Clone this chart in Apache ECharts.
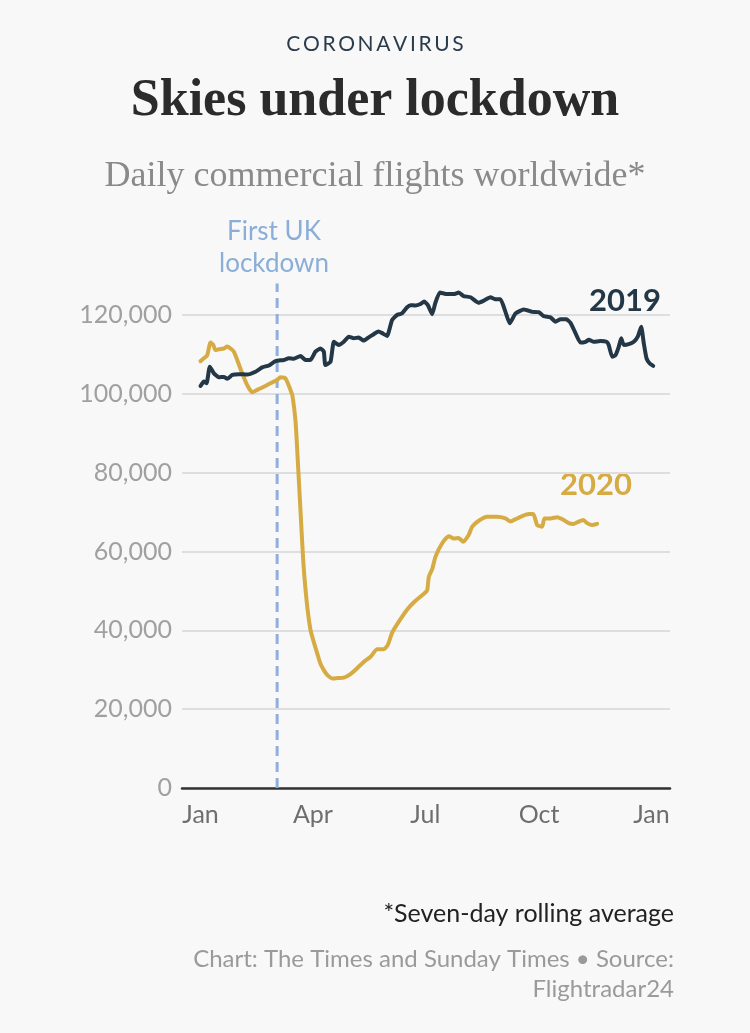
<!DOCTYPE html>
<html>
<head>
<meta charset="utf-8">
<script src="https://cdn.jsdelivr.net/npm/echarts@6/dist/echarts.min.js"></script>
<style>
html,body{margin:0;padding:0;background:#f8f8f8;}
#chart{width:750px;height:1033px;}
</style>
</head>
<body>
<div id="chart"></div>
<script>
// Day of year (0 = 1 Jan), daily flights (thousands)
const days2019 = [0,2.7,4.9,7.5,10.8,14.8,18.9,21.6,25.7,31,37.8,44.5,49.9,55.3,60.7,67.4,71.5,75.5,80.9,85,89,93,97,99.8,101,105.2,107.9,111.9,116,120,124,128,132,135,139,144,147,151,155,159,163,167,170,174,178,181,184,187.5,190,193.7,199.7,205,209,213,218.5,225,229,234.7,238.7,242.8,246.8,250.3,255,261.7,268.5,273.8,277.8,283.3,287.3,291.4,296.2,299.5,303.5,307.5,311.6,314.3,318.3,323.7,328.6,330.4,333.2,335.9,338.5,340.5,342.6,346.6,350.7,353.9,356.7,358.8,361,363.6,366.4];
const flights2019 = [102.0,103.1,102.7,106.9,105.2,104.2,104.3,103.8,104.8,105.0,104.9,105.6,106.7,107.2,108.3,108.6,109.0,108.9,109.6,108.6,108.6,110.7,111.5,110.7,107.3,108.1,113.2,112.4,113.2,114.5,114.1,114.3,113.5,114.1,114.9,115.8,115.4,114.7,118.7,120.0,120.4,121.9,122.5,122.4,122.8,123.4,122.5,120.2,123.0,125.7,125.3,125.3,125.7,124.8,124.5,123.1,123.6,124.5,124.0,124.0,120.8,117.9,120.4,121.4,120.8,120.7,119.7,119.4,118.3,118.9,118.9,118.0,115.4,113.0,113.2,113.7,113.2,113.4,113.2,112.4,109.4,109.8,111.9,114.1,112.4,112.6,113.2,114.5,117.0,112.8,109.0,107.7,107.1];

const days2020 = [0,2.7,5.4,8.1,10.3,12.1,14.8,18.9,21.6,24.3,27,29.7,33.7,37.8,41.8,45.9,51.2,56.7,62,64.7,68.8,72.8,74.4,76.9,78.7,80.9,83.1,85.8,89,91.7,94.4,97,99.8,102.5,106.6,111,116,121.4,126.8,132.2,137.6,143,148.3,151.6,155.1,160.5,167.3,174,181.3,183.5,184.8,187.5,190.2,195.6,201,205,209,212.6,217,219.9,225.2,232,240,246.8,251,255,260.4,265.7,269.3,272.5,276.5,278.4,283.3,288.7,294,298,302.1,306.2,309.7,312.9,317,321];
const flights2020 = [108.3,109.0,109.8,113.0,112.4,111.1,111.3,111.5,112.0,111.5,110.7,108.6,105.2,102.2,100.4,101.0,101.8,102.7,103.5,104.2,103.9,101.0,99.5,93.0,83.2,70.5,57.8,47.7,40.1,37.0,34.2,31.6,29.9,28.7,27.8,27.9,28.0,28.9,30.4,32.0,33.3,35.2,35.2,36.3,39.4,42.2,45.3,47.5,49.4,50.2,53.6,55.5,58.7,62.1,63.9,63.3,63.4,62.5,64.2,66.3,67.8,68.8,68.8,68.4,67.6,68.2,69.0,69.5,69.5,66.7,66.3,68.4,68.4,68.7,68.0,67.2,67.0,67.6,68.0,67.2,66.7,67.0];

const lockdownDay = 62;
const lockdownTop = 128;
const monthTicks = [0, 91, 182, 274, 365];
const monthLabels = ['Jan', 'Apr', 'Jul', 'Oct', 'Jan'];

const pair = (d, v) => d.map((x, i) => [x, v[i] * 1000]);

const sans = 'Lato, "Open Sans", sans-serif';
const serif = '"Liberation Serif", "DejaVu Serif", serif';
const spaced = s => s.split('').join('\u2009');

const chart = echarts.init(document.getElementById('chart'), null, {renderer: 'canvas'});
chart.setOption({
  backgroundColor: '#f8f8f8',
  animation: false,
  grid: {left: 182, right: 80, top: 315, bottom: 245},
  xAxis: {
    type: 'value', min: -15, max: 380,
    axisLine: {show: true, lineStyle: {color: '#333', width: 2.5}},
    axisTick: {show: false},
    splitLine: {show: false},
    axisLabel: {
      customValues: monthTicks,
      formatter: v => monthLabels[monthTicks.indexOf(v)],
      color: '#6e6e6e', fontFamily: sans, fontSize: 25, margin: 14
    }
  },
  yAxis: {
    type: 'value', min: 0, max: 120000, interval: 20000,
    axisLine: {show: false}, axisTick: {show: false},
    splitLine: {lineStyle: {color: '#dedede', width: 2}},
    axisLabel: {
      formatter: v => v.toLocaleString('en-US'),
      color: '#a0a0a0', fontFamily: sans, fontSize: 25, margin: 10
    }
  },
  series: [
    {
      type: 'line', data: [[lockdownDay, 0], [lockdownDay, lockdownTop * 1000]],
      symbol: 'none', clip: false, z: 1,
      lineStyle: {color: '#8eb0da', width: 3, type: [10, 6]}
    },
    {
      type: 'line', data: pair(days2019, flights2019), symbol: 'none', clip: false,
      smooth: 0.15, z: 3,
      lineStyle: {color: '#243746', width: 4, join: 'round', cap: 'round'}
    },
    {
      type: 'line', data: pair(days2020, flights2020), symbol: 'none', clip: false,
      smooth: 0.2, z: 2,
      lineStyle: {color: '#d6ab43', width: 4, join: 'round', cap: 'round'}
    }
  ],
  graphic: [
    {type: 'text', left: 'center', top: 34, style: {text: spaced('CORONAVIRUS'), font: '400 21px ' + sans, fill: '#2a3b4c'}},
    {type: 'text', left: 'center', top: 76, style: {text: 'Skies under lockdown', font: '700 52px ' + serif, fill: '#2b2b2b'}},
    {type: 'text', left: 'center', top: 159, style: {text: 'Daily commercial flights worldwide*', font: '400 36px ' + serif, fill: '#8a8a8a'}},
    {type: 'text', x: 274, y: 216, style: {text: 'First UK\nlockdown', font: '400 26px ' + sans, fill: '#8aaed8', align: 'center', lineHeight: 32}},
    {type: 'text', x: 661, y: 285, style: {text: '2019', font: '700 31px ' + sans, fill: '#243746', align: 'right'}},
    {type: 'text', x: 632, y: 469, style: {text: '2020', font: '700 31px ' + sans, fill: '#d6ab43', align: 'right'}},
    {type: 'text', x: 674, y: 901, style: {text: '*Seven-day rolling average', font: '400 25px ' + sans, fill: '#222', align: 'right'}},
    {type: 'text', x: 674, y: 944, style: {text: 'Chart: The Times and Sunday Times \u2022 Source:\nFlightradar24', font: '400 24px ' + sans, fill: '#9a9a9a', align: 'right', lineHeight: 30}}
  ]
});
</script>
</body>
</html>
